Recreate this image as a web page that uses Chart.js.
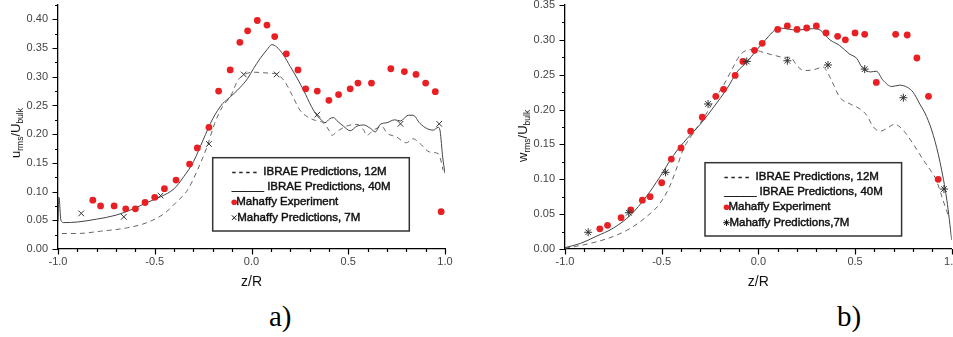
<!DOCTYPE html>
<html>
<head>
<meta charset="utf-8">
<script src="https://cdn.jsdelivr.net/npm/chart.js@4.4.1/dist/chart.umd.min.js"></script>
<style>
html, body { margin: 0; padding: 0; background: #fff; overflow: hidden; }
#wrap { position: relative; width: 953px; height: 337px; overflow: hidden; }
canvas { position: absolute; top: 0; }
#cA { left: 0; }
#cB { left: 476px; }
.tag { position: absolute; font-family: "Liberation Serif", "Times New Roman", serif; font-size: 29px; line-height: 29px; color: #000; }
</style>
</head>
<body>
<div id="wrap">
  <canvas id="cA" width="476" height="300"></canvas>
  <canvas id="cB" width="500" height="300"></canvas>
  <div class="tag" style="left:269px; top:302px;">a)</div>
  <div class="tag" style="left:837px; top:302px;">b)</div>
</div>
<script>
// ---- panel a) : u_rms / U_bulk ----
const zA_exp = [-0.82, -0.78, -0.71, -0.65, -0.60, -0.55, -0.50, -0.45, -0.39, -0.32, -0.28, -0.22, -0.17, -0.11, -0.06, -0.02, 0.03, 0.08, 0.12, 0.18, 0.24, 0.28, 0.34, 0.40, 0.45, 0.51, 0.55, 0.62, 0.72, 0.79, 0.85, 0.90, 0.95, 0.98];
const uA_exp = [0.085, 0.075, 0.075, 0.070, 0.070, 0.081, 0.090, 0.105, 0.120, 0.148, 0.176, 0.212, 0.275, 0.312, 0.360, 0.380, 0.398, 0.390, 0.370, 0.340, 0.312, 0.279, 0.275, 0.259, 0.269, 0.279, 0.289, 0.289, 0.314, 0.309, 0.304, 0.289, 0.274, 0.065];

const zA_mah = [-0.88, -0.66, -0.47, -0.22, -0.04, 0.13, 0.34, 0.77, 0.97];
const uA_mah = [0.062, 0.056, 0.093, 0.183, 0.304, 0.304, 0.234, 0.218, 0.218];

const zA_40 = [-1.0, -0.995, -0.985, -0.97, -0.90, -0.80, -0.70, -0.61, -0.54, -0.47, -0.40, -0.35, -0.30, -0.25, -0.20, -0.15, -0.13, -0.09, -0.06, -0.02, 0.01, 0.045, 0.08, 0.105, 0.13, 0.165, 0.20, 0.235, 0.27, 0.31, 0.34, 0.36, 0.38, 0.405, 0.425, 0.44, 0.475, 0.51, 0.545, 0.58, 0.615, 0.64, 0.665, 0.70, 0.74, 0.77, 0.81, 0.835, 0.87, 0.905, 0.94, 0.965, 0.975, 0.988, 1.0];
const uA_40 = [0.048, 0.090, 0.050, 0.046, 0.047, 0.052, 0.059, 0.070, 0.081, 0.091, 0.105, 0.126, 0.152, 0.190, 0.227, 0.253, 0.259, 0.271, 0.281, 0.297, 0.314, 0.332, 0.347, 0.356, 0.352, 0.338, 0.318, 0.298, 0.276, 0.248, 0.232, 0.225, 0.220, 0.227, 0.229, 0.224, 0.214, 0.206, 0.214, 0.216, 0.210, 0.204, 0.217, 0.220, 0.225, 0.223, 0.233, 0.233, 0.219, 0.210, 0.207, 0.212, 0.205, 0.160, 0.132];

const zA_12 = [-0.98, -0.90, -0.78, -0.64, -0.54, -0.45, -0.39, -0.33, -0.28, -0.23, -0.19, -0.15, -0.11, -0.07, -0.04, 0.01, 0.06, 0.105, 0.13, 0.15, 0.175, 0.21, 0.25, 0.29, 0.33, 0.37, 0.40, 0.415, 0.44, 0.49, 0.545, 0.58, 0.595, 0.63, 0.675, 0.70, 0.75, 0.80, 0.835, 0.87, 0.92, 0.965, 0.978, 0.99];
const uA_12 = [0.027, 0.027, 0.031, 0.037, 0.046, 0.062, 0.081, 0.103, 0.137, 0.178, 0.219, 0.248, 0.265, 0.294, 0.303, 0.308, 0.307, 0.306, 0.305, 0.300, 0.290, 0.268, 0.242, 0.230, 0.224, 0.220, 0.207, 0.198, 0.204, 0.214, 0.217, 0.207, 0.198, 0.207, 0.213, 0.202, 0.195, 0.185, 0.192, 0.184, 0.169, 0.166, 0.155, 0.137];

// ---- panel b) : w_rms / U_bulk ----
const zB_exp = [-0.82, -0.78, -0.71, -0.66, -0.60, -0.56, -0.50, -0.45, -0.40, -0.35, -0.29, -0.22, -0.18, -0.12, -0.08, -0.02, 0.02, 0.10, 0.15, 0.20, 0.25, 0.30, 0.35, 0.41, 0.45, 0.50, 0.55, 0.61, 0.71, 0.77, 0.82, 0.88, 0.93];
const wB_exp = [0.029, 0.034, 0.045, 0.056, 0.070, 0.075, 0.095, 0.129, 0.145, 0.169, 0.189, 0.219, 0.229, 0.249, 0.269, 0.285, 0.295, 0.315, 0.320, 0.315, 0.317, 0.320, 0.310, 0.305, 0.300, 0.310, 0.308, 0.239, 0.308, 0.307, 0.274, 0.219, 0.100];

const zB_mah = [-0.88, -0.67, -0.48, -0.26, -0.06, 0.15, 0.36, 0.55, 0.75, 0.96];
const wB_mah = [0.024, 0.052, 0.110, 0.208, 0.269, 0.270, 0.264, 0.258, 0.217, 0.086];

const zB_40 = [-1.0, -0.92, -0.84, -0.75, -0.66, -0.58, -0.51, -0.44, -0.37, -0.30, -0.23, -0.16, -0.11, -0.06, -0.01, 0.04, 0.085, 0.11, 0.20, 0.28, 0.32, 0.37, 0.42, 0.47, 0.51, 0.535, 0.58, 0.61, 0.645, 0.69, 0.73, 0.77, 0.80, 0.835, 0.87, 0.905, 0.94, 0.975, 1.0];
const wB_40 = [0.002, 0.008, 0.018, 0.030, 0.049, 0.075, 0.103, 0.134, 0.158, 0.179, 0.204, 0.231, 0.254, 0.268, 0.285, 0.301, 0.314, 0.317, 0.314, 0.316, 0.314, 0.300, 0.292, 0.280, 0.273, 0.261, 0.254, 0.255, 0.242, 0.233, 0.235, 0.232, 0.225, 0.208, 0.190, 0.163, 0.124, 0.070, 0.013];

const zB_12 = [-1.0, -0.87, -0.75, -0.66, -0.58, -0.51, -0.46, -0.42, -0.39, -0.34, -0.28, -0.23, -0.18, -0.13, -0.095, -0.06, -0.025, 0.025, 0.08, 0.13, 0.165, 0.20, 0.235, 0.285, 0.335, 0.36, 0.39, 0.42, 0.475, 0.525, 0.56, 0.595, 0.63, 0.665, 0.705, 0.75, 0.80, 0.855, 0.89, 0.92, 0.955, 0.985];
const wB_12 = [0.001, 0.008, 0.018, 0.030, 0.046, 0.065, 0.089, 0.118, 0.142, 0.165, 0.189, 0.213, 0.235, 0.261, 0.278, 0.285, 0.286, 0.282, 0.278, 0.275, 0.275, 0.263, 0.256, 0.257, 0.261, 0.252, 0.235, 0.218, 0.208, 0.201, 0.192, 0.175, 0.169, 0.173, 0.179, 0.170, 0.151, 0.127, 0.113, 0.099, 0.070, 0.046];

const FONT = '"Liberation Sans", Arial, sans-serif';
const RED = 'rgb(232,32,36)';

function pts(xs, ys) {
    return xs.map((x, i) => ({ x: x, y: ys[i] }));
}

function drawMarker(ctx, style, x, y, r) {
    ctx.beginPath();
    const d = r * Math.SQRT1_2;
    ctx.moveTo(x - d, y - d); ctx.lineTo(x + d, y + d);
    ctx.moveTo(x - d, y + d); ctx.lineTo(x + d, y - d);
    if (style === 'star') {
        ctx.moveTo(x, y - r); ctx.lineTo(x, y + r);
        ctx.moveTo(x - r, y); ctx.lineTo(x + r, y);
    }
    ctx.stroke();
}

// legend text: a bit heavier than the tick labels, like the scanned original
function legendText(ctx, txt, x, y) {
    ctx.fillText(txt, x, y);
    ctx.strokeText(txt, x, y);
}

function makeChart(id, p) {
    const decor = {
        id: 'decor',
        afterDraw(chart) {
            const ctx = chart.ctx;
            const xs = chart.scales.x, ys = chart.scales.y;
            const a = chart.chartArea;

            // outward ticks, major + minor
            ctx.save();
            ctx.strokeStyle = '#000';
            ctx.lineWidth = 1.2;
            ctx.beginPath();
            for (let i = 0; i * 0.025 <= p.yMax + 1e-9; i++) {
                const py = Math.round(ys.getPixelForValue(i * 0.025)) + 0.5;
                const len = i % 2 === 0 ? 5.5 : 3;
                ctx.moveTo(a.left - len, py); ctx.lineTo(a.left, py);
            }
            for (let i = -10; i <= 10; i++) {
                const px = Math.round(xs.getPixelForValue(i / 10)) + 0.5;
                const len = i % 5 === 0 ? 5.5 : 3;
                ctx.moveTo(px, a.bottom); ctx.lineTo(px, a.bottom + len);
            }
            ctx.stroke();

            // x title
            ctx.fillStyle = '#111';
            ctx.font = '14px ' + FONT;
            ctx.textAlign = 'center';
            ctx.textBaseline = 'middle';
            ctx.fillText('z/R', (a.left + a.right) / 2, 282);

            // y title with subscripts
            ctx.translate(p.yTitleX, p.yTitleY);
            ctx.rotate(-Math.PI / 2);
            ctx.textAlign = 'left';
            ctx.textBaseline = 'alphabetic';
            let tx = 0;
            for (const [txt, sub] of p.yTitle) {
                ctx.font = (sub ? '8.5px ' : '13px ') + FONT;
                ctx.fillText(txt, tx, sub ? 3 : 0);
                tx += ctx.measureText(txt).width;
            }
            ctx.restore();

            // legend box
            const L = p.legend;
            const ds = chart.data.datasets;
            const rows = [14.6, 29.6, 44.6, 60];
            ctx.save();
            ctx.strokeStyle = '#333';
            ctx.lineWidth = 1.5;
            ctx.strokeRect(L.x, L.y, L.w, L.h);
            ctx.font = '11.5px ' + FONT;
            ctx.fillStyle = '#111';
            ctx.strokeStyle = '#111';
            ctx.lineWidth = 0.45;
            ctx.textAlign = 'left';
            ctx.textBaseline = 'middle';
            legendText(ctx, '- - - -  ' + ds[0].label, L.x + 19.3, L.y + rows[0]);
            legendText(ctx, '_____ ' + ds[1].label, L.x + 19.3, L.y + rows[1]);
            ctx.fillStyle = RED;
            ctx.beginPath();
            ctx.arc(L.x + 21.5, L.y + rows[2], 2.8, 0, Math.PI * 2);
            ctx.fill();
            ctx.fillStyle = '#111';
            legendText(ctx, ds[2].label, L.x + 23.5, L.y + rows[2]);
            ctx.lineWidth = 1;
            drawMarker(ctx, p.predStyle, L.x + 21.5, L.y + rows[3], 3.3);
            ctx.lineWidth = 0.45;
            legendText(ctx, ds[3].label, L.x + 24.5, L.y + rows[3]);
            ctx.restore();
        }
    };

    return new Chart(document.getElementById(id), {
        type: 'scatter',
        data: {
            datasets: [
                {
                    label: 'IBRAE Predictions, 12M',
                    data: pts(p.z12, p.v12),
                    showLine: true, fill: false,
                    pointRadius: 0,
                    borderColor: '#666', borderWidth: 1, borderDash: [5, 4],
                    cubicInterpolationMode: 'monotone',
                    order: 4
                },
                {
                    label: 'IBRAE Predictions, 40M',
                    data: pts(p.z40, p.v40),
                    showLine: true, fill: false,
                    pointRadius: 0,
                    borderColor: '#444', borderWidth: 1,
                    cubicInterpolationMode: 'monotone',
                    order: 3
                },
                {
                    label: 'Mahaffy Experiment',
                    data: pts(p.zExp, p.vExp),
                    pointStyle: 'circle', pointRadius: 3.4,
                    backgroundColor: RED, borderWidth: 0,
                    order: 2
                },
                {
                    label: p.predLabel,
                    data: pts(p.zMah, p.vMah),
                    pointStyle: p.predStyle, pointRadius: 4,
                    borderColor: '#333', borderWidth: 1,
                    order: 1
                }
            ]
        },
        options: {
            responsive: false,
            animation: false,
            layout: { padding: { top: p.padTop, right: p.padRight, left: 0, bottom: 0 } },
            plugins: {
                legend: { display: false },
                tooltip: { enabled: false }
            },
            scales: {
                x: {
                    type: 'linear', min: -1, max: 1,
                    grid: { display: false, drawTicks: false },
                    border: { display: true, color: '#000', width: 1.3 },
                    ticks: {
                        stepSize: 0.5, padding: 6, color: '#444',
                        font: { family: FONT, size: 11 },
                        maxRotation: 0, autoSkip: false,
                        callback: v => (Math.abs(v) < 1e-9 ? 0 : v).toFixed(1)
                    },
                    afterFit(s) { s.height = 51; s.paddingLeft = 0; s.paddingRight = 0; }
                },
                y: {
                    type: 'linear', min: 0, max: p.yMax,
                    grid: { display: false, drawTicks: false },
                    border: { display: true, color: '#000', width: 1.3 },
                    ticks: {
                        stepSize: 0.05, padding: 10, color: '#444',
                        font: { family: FONT, size: 11 },
                        callback: v => v.toFixed(2)
                    },
                    afterBuildTicks(s) {
                        s.ticks = s.ticks.filter(t => Math.abs(t.value / 0.05 - Math.round(t.value / 0.05)) < 1e-6);
                    },
                    afterFit(s) { s.width = p.yWidth; s.paddingTop = 0; s.paddingBottom = 0; }
                }
            }
        },
        plugins: [decor]
    });
}

makeChart('cA', {
    zExp: zA_exp, vExp: uA_exp, zMah: zA_mah, vMah: uA_mah,
    z40: zA_40, v40: uA_40, z12: zA_12, v12: uA_12,
    yMax: 0.425, yWidth: 58, padTop: 4, padRight: 31,
    yTitle: [['u', 0], ['rms', 1], ['/U', 0], ['bulk', 1]],
    yTitleX: 19.5, yTitleY: 158,
    predStyle: 'crossRot', predLabel: 'Mahaffy Predictions, 7M',
    legend: { x: 212.7, y: 157.7, w: 196.6, h: 73.3 }
});

makeChart('cB', {
    zExp: zB_exp, vExp: wB_exp, zMah: zB_mah, vMah: wB_mah,
    z40: zB_40, v40: wB_40, z12: zB_12, v12: wB_12,
    yMax: 0.35, yWidth: 89, padTop: 4.3, padRight: 24.3,
    yTitle: [['w', 0], ['rms', 1], ['/U', 0], ['bulk', 1]],
    yTitleX: 51, yTitleY: 162,
    predStyle: 'star', predLabel: 'Mahaffy Predictions,7M',
    legend: { x: 229, y: 162.7, w: 196.6, h: 73.3 }
});
</script>
</body>
</html>
